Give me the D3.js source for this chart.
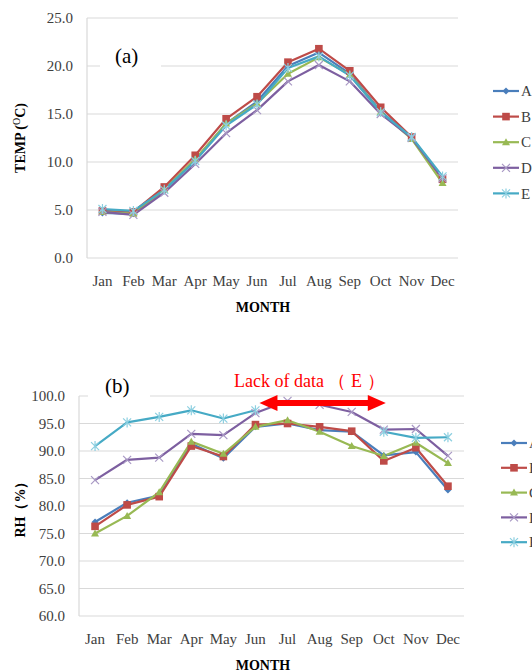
<!DOCTYPE html>
<html>
<head>
<meta charset="utf-8">
<script src="https://cdn.jsdelivr.net/npm/d3@7"></script>
<style>
  body { margin: 0; background: #fff; }
  svg { display: block; font-family: "Liberation Serif", "Times New Roman", serif; }
</style>
</head>
<body>
<svg width="532" height="670"></svg>
<script>
// Data
const months = ["Jan", "Feb", "Mar", "Apr", "May", "Jun", "Jul", "Aug", "Sep", "Oct", "Nov", "Dec"];
const stations = ["A", "B", "C", "D", "E"];

const tempA = [4.7, 4.6, 7.1, 10.2, 14.0, 16.3, 20.0, 21.4, 19.2, 15.3, 12.5, 8.3];
const tempB = [4.9, 4.8, 7.4, 10.7, 14.5, 16.8, 20.4, 21.8, 19.5, 15.7, 12.6, 8.2];
const tempC = [4.8, 4.6, 7.1, 10.3, 14.0, 16.1, 19.2, 20.9, 19.1, 15.2, 12.4, 7.8];
const tempD = [4.8, 4.5, 6.8, 9.8, 13.0, 15.4, 18.4, 20.1, 18.4, 15.0, 12.5, 8.3];
const tempE = [5.1, 4.9, 7.1, 10.1, 13.8, 16.0, 19.8, 21.0, 19.0, 15.2, 12.6, 8.5];

const rhA = [77.1, 80.6, 81.9, 91.3, 88.7, 94.4, 95.0, 93.8, 93.5, 89.2, 89.8, 82.9];
const rhB = [76.3, 80.2, 81.7, 90.9, 89.0, 94.8, 95.0, 94.4, 93.6, 88.2, 90.6, 83.6];
const rhC = [75.0, 78.2, 82.5, 91.7, 89.5, 94.4, 95.6, 93.5, 90.9, 89.1, 91.5, 87.8];
const rhD = [84.7, 88.4, 88.8, 93.1, 92.9, 96.9, 99.1, 98.4, 97.1, 93.9, 94.0, 89.1];
const rhE = [90.9, 95.2, 96.2, 97.4, 95.9, 97.4, null, null, null, 93.5, 92.4, 92.5];

const tempTicks = [0, 5, 10, 15, 20, 25];
const rhTicks = [60, 65, 70, 75, 80, 85, 90, 95, 100];

const colors = ["#4a7ebb", "#be4b48", "#98b954", "#7d5fa0", "#46aac5"];
const markerColors = ["#4a7ebb", "#be4b48", "#98b954", "#a898c4", "#8ccfe0"];

const svg = d3.select("svg");

// marker drawing
function marker(g, i, cx, cy) {
  const c = markerColors[i];
  if (i === 0) {
    g.append("path").attr("d", `M${cx},${cy-3.5}L${cx+3.5},${cy}L${cx},${cy+3.5}L${cx-3.5},${cy}Z`).attr("fill", c);
  } else if (i === 1) {
    g.append("rect").attr("x", cx - 3.8).attr("y", cy - 3.8).attr("width", 7.6).attr("height", 7.6).attr("fill", c);
  } else if (i === 2) {
    g.append("path").attr("d", `M${cx},${cy-4}L${cx+4},${cy+3}L${cx-4},${cy+3}Z`).attr("fill", c);
  } else if (i === 3) {
    g.append("path").attr("d", `M${cx-4},${cy-4}L${cx+4},${cy+4}M${cx-4},${cy+4}L${cx+4},${cy-4}`)
      .attr("stroke", c).attr("stroke-width", 1.2).attr("fill", "none");
  } else {
    g.append("path").attr("d", `M${cx-4},${cy-4}L${cx+4},${cy+4}M${cx-4},${cy+4}L${cx+4},${cy-4}M${cx},${cy-5}L${cx},${cy+5}`)
      .attr("stroke", c).attr("stroke-width", 1.2).attr("fill", "none");
  }
}

function panel(cfg) {
  const x = d3.scaleBand().domain(months).range([cfg.left, cfg.right]);
  const y = d3.scaleLinear().domain(cfg.domain).range([cfg.bottom, cfg.top]);
  const g = svg.append("g");

  // gridlines
  g.append("g").selectAll("line").data(cfg.ticks).join("line")
    .attr("x1", cfg.left).attr("x2", cfg.right)
    .attr("y1", d => y(d)).attr("y2", d => y(d))
    .attr("stroke", "#d9d9d9").attr("stroke-width", 1.2);
  g.append("line").attr("x1", cfg.left).attr("x2", cfg.left)
    .attr("y1", cfg.top).attr("y2", cfg.bottom)
    .attr("stroke", "#d9d9d9").attr("stroke-width", 1.2);

  // y tick labels
  g.append("g").selectAll("text").data(cfg.ticks).join("text")
    .attr("x", cfg.left - 14).attr("y", d => y(d)).attr("dy", "0.35em")
    .attr("text-anchor", "end").attr("font-size", 15).attr("fill", "#404040")
    .text(d => d.toFixed(1));

  // x tick labels
  g.append("g").selectAll("text").data(months).join("text")
    .attr("x", d => x(d) + x.bandwidth() / 2).attr("y", cfg.bottom + 28)
    .attr("text-anchor", "middle").attr("font-size", 15).attr("fill", "#404040")
    .text(d => d);

  // panel label with white box
  g.append("rect").attr("x", cfg.tag.x0).attr("y", cfg.tag.y0).attr("width", cfg.tag.w).attr("height", cfg.tag.h).attr("fill", "#fff");
  g.append("text").attr("x", cfg.tag.tx).attr("y", cfg.tag.ty).attr("font-size", 21).attr("fill", "#000").text(cfg.tag.text);

  // series
  const line = d3.line().defined(d => d.v != null)
    .x(d => x(d.m) + x.bandwidth() / 2).y(d => y(d.v));
  cfg.series.forEach((s, i) => {
    const pts = months.map((m, j) => ({m, v: s[j]}));
    g.append("path").datum(pts).attr("d", line)
      .attr("fill", "none").attr("stroke", colors[i]).attr("stroke-width", 2.2)
      .attr("stroke-linejoin", "round");
  });
  cfg.series.forEach((s, i) => {
    const mg = g.append("g");
    months.forEach((m, j) => {
      if (s[j] != null) marker(mg, i, x(m) + x.bandwidth() / 2, y(s[j]));
    });
  });

  // legend
  stations.forEach((name, i) => {
    const ly = cfg.legend.y + i * cfg.legend.step;
    g.append("line").attr("x1", cfg.legend.x).attr("x2", cfg.legend.x + 26)
      .attr("y1", ly).attr("y2", ly).attr("stroke", colors[i]).attr("stroke-width", 2.2);
    const mg = g.append("g");
    marker(mg, i, cfg.legend.x + 13, ly);
    g.append("text").attr("x", cfg.legend.x + 28).attr("y", ly).attr("dy", "0.35em")
      .attr("font-size", 15).attr("fill", "#404040").text(name);
  });

  // axis titles
  g.append("text").attr("x", 263).attr("y", cfg.bottom + 54)
    .attr("text-anchor", "middle").attr("font-size", 14).attr("font-weight", "bold")
    .text("MONTH");
  const yt = g.append("text")
    .attr("transform", `translate(25,${(cfg.top + cfg.bottom) / 2}) rotate(-90)`)
    .attr("text-anchor", "middle").attr("font-size", 14).attr("font-weight", "bold");
  cfg.ytitle(yt);
  return {x, y};
}

panel({
  left: 87, right: 458, top: 18, bottom: 258,
  domain: [0, 25], ticks: tempTicks,
  series: [tempA, tempB, tempC, tempD, tempE],
  tag: {x0: 100, y0: 48, w: 61, h: 28, tx: 115, ty: 63, text: "(a)"},
  legend: {x: 493, y: 91, step: 25.6},
  ytitle: t => {
    t.append("tspan").text("TEMP (");
    t.append("tspan").attr("font-size", 10).attr("dy", -5).attr("font-weight", "normal").text("O");
    t.append("tspan").attr("dy", 5).text("C)");
  }
});

const b = panel({
  left: 79, right: 464, top: 396, bottom: 616,
  domain: [60, 100], ticks: rhTicks,
  series: [rhA, rhB, rhC, rhD, rhE],
  tag: {x0: 88, y0: 378, w: 62, h: 26, tx: 105, ty: 393, text: "(b)"},
  legend: {x: 501, y: 443, step: 24.8},
  ytitle: t => t.text("RH（%）")
});

// annotation: missing data for E (Jul-Sep)
const ax0 = b.x("Jun") + b.x.bandwidth() / 2 + 4;
const ax1 = b.x("Oct") + b.x.bandwidth() / 2 + 2;
const ay = 403;
svg.append("path")
  .attr("d", `M${ax0},${ay}L${ax0+18},${ay-8}L${ax0+18},${ay-3}L${ax1-18},${ay-3}L${ax1-18},${ay-8}L${ax1},${ay}L${ax1-18},${ay+8}L${ax1-18},${ay+3}L${ax0+18},${ay+3}L${ax0+18},${ay+8}Z`)
  .attr("fill", "#ff0000");
const note = svg.append("text").attr("x", 234).attr("y", 387).attr("font-size", 18).attr("fill", "#ff0000");
note.append("tspan").text("Lack of data");
note.append("tspan").attr("dx", 4).text("（");
note.append("tspan").attr("dx", 5).text("E");
note.append("tspan").attr("dx", 5).text("）");
</script>
</body>
</html>
